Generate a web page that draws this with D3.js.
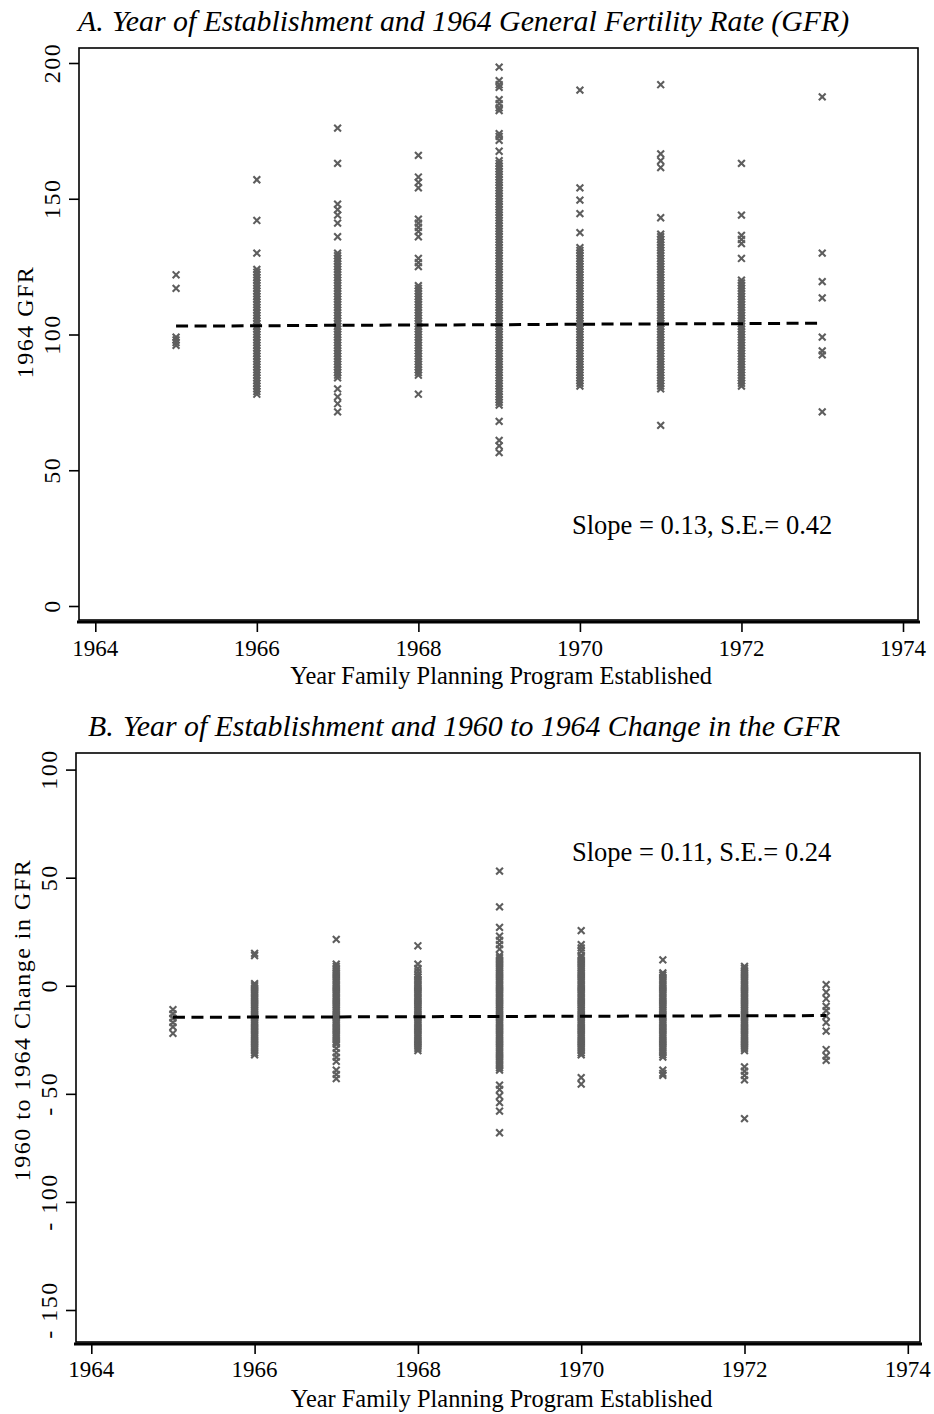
<!DOCTYPE html>
<html>
<head>
<meta charset="utf-8">
<script src="https://cdn.jsdelivr.net/npm/d3@7"></script>
<style>
html,body{margin:0;padding:0;background:#fff;}
svg text{font-family:"Liberation Serif","Times New Roman",serif;fill:#000;}
</style>
</head>
<body>
<svg id="chart" width="934" height="1414"></svg>
<script>
// ---------- DATA ----------
const years = [1965, 1966, 1967, 1968, 1969, 1970, 1971, 1972, 1973];
const xTicks = [1964, 1966, 1968, 1970, 1972, 1974];
const yTicksA = [0, 50, 100, 150, 200];
const yTicksB = [-150, -100, -50, 0, 50, 100];

// Panel A: 1964 GFR by year of establishment
const gfr64_1965 = [122, 117, 99, 98, 97, 96];
const gfr64_1966 = [157, 142, 130, 124, 123, 122, 121, 120, 119, 118, 117, 116, 115, 114, 113, 112, 111, 110, 109, 108, 107, 106, 105, 104, 103, 102, 101, 100, 99, 98, 97, 96, 95, 94, 93, 92, 91, 90, 89, 88, 87, 86, 85, 84, 83, 82, 81, 80, 79, 78];
const gfr64_1967 = [176, 163, 148, 146, 144, 141, 136, 130, 129, 128, 127, 126, 125, 124, 123, 122, 121, 120, 119, 118, 117, 116, 115, 114, 113, 112, 111, 110, 109, 108, 107, 106, 105, 104, 103, 102, 101, 100, 99, 98, 97, 96, 95, 94, 93, 92, 91, 90, 89, 88, 87, 86, 85, 84, 80, 77, 74.5, 71.5];
const gfr64_1968 = [166, 158, 156, 154, 142.5, 141, 139.5, 138, 136, 128, 126.5, 125, 118, 117, 116, 115, 114, 113, 112, 111, 110, 109, 108, 107, 106, 105, 104, 103, 102, 101, 100, 99, 98, 97, 96, 95, 94, 93, 92, 91, 90, 89, 88, 87, 86, 85, 78];
const gfr64_1969 = [198.5, 193.5, 192, 191, 186.5, 185, 183.5, 182.5, 174, 173, 171.5, 167.5, 164, 163, 162, 161, 160, 159, 158, 157, 156, 155, 154, 153, 152, 151, 150, 149, 148, 147, 146, 145, 144, 143, 142, 141, 140, 139, 138, 137, 136, 135, 134, 133, 132, 131, 130, 129, 128, 127, 126, 125, 124, 123, 122, 121, 120, 119, 118, 117, 116, 115, 114, 113, 112, 111, 110, 109, 108, 107, 106, 105, 104, 103, 102, 101, 100, 99, 98, 97, 96, 95, 94, 93, 92, 91, 90, 89, 88, 87, 86, 85, 84, 83, 82, 81, 80, 79, 78, 77, 76, 75, 74, 68, 61, 59, 56.5];
const gfr64_1970 = [190, 154, 149.5, 144.5, 137.5, 132, 131, 130, 129, 128, 127, 126, 125, 124, 123, 122, 121, 120, 119, 118, 117, 116, 115, 114, 113, 112, 111, 110, 109, 108, 107, 106, 105, 104, 103, 102, 101, 100, 99, 98, 97, 96, 95, 94, 93, 92, 91, 90, 89, 88, 87, 86, 85, 84, 83, 82, 81];
const gfr64_1971 = [192, 166.5, 164, 161.5, 143, 137, 136, 135, 134, 133, 132, 131, 130, 129, 128, 127, 126, 125, 124, 123, 122, 121, 120, 119, 118, 117, 116, 115, 114, 113, 112, 111, 110, 109, 108, 107, 106, 105, 104, 103, 102, 101, 100, 99, 98, 97, 96, 95, 94, 93, 92, 91, 90, 89, 88, 87, 86, 85, 84, 83, 82, 81, 80, 66.5];
const gfr64_1972 = [163, 144, 136.5, 135, 133.5, 128, 120, 119, 118, 117, 116, 115, 114, 113, 112, 111, 110, 109, 108, 107, 106, 105, 104, 103, 102, 101, 100, 99, 98, 97, 96, 95, 94, 93, 92, 91, 90, 89, 88, 87, 86, 85, 84, 83, 82, 81];
const gfr64_1973 = [187.5, 130, 119.5, 113.5, 99, 94, 92.5, 71.5];
const fitA = [103.1, 103.2, 103.4, 103.5, 103.6, 103.8, 103.9, 104.0, 104.2];

// Panel B: 1960-1964 change in GFR
const chg_1965 = [-11, -13, -15, -17, -19, -22];
const chg_1966 = [15, 14, 1, 0, -1, -2, -3, -4, -5, -6, -7, -8, -9, -10, -11, -12, -13, -14, -15, -16, -17, -18, -19, -20, -21, -22, -23, -24, -25, -26, -27, -28, -29, -30, -31, -32];
const chg_1967 = [21.5, 10, 9, 8, 7, 6, 5, 4, 3, 2, 1, 0, -1, -2, -3, -4, -5, -6, -7, -8, -9, -10, -11, -12, -13, -14, -15, -16, -17, -18, -19, -20, -21, -22, -23, -24, -25, -26, -27, -29, -31, -33, -35, -39, -41, -43];
const chg_1968 = [18.5, 10, 8, 6.5, 5, 4, 3, 2, 1, 0, -1, -2, -3, -4, -5, -6, -7, -8, -9, -10, -11, -12, -13, -14, -15, -16, -17, -18, -19, -20, -21, -22, -23, -24, -25, -26, -27, -28, -29, -30];
const chg_1969 = [53, 36.5, 27, 23, 21, 19, 17, 14, 13, 12, 11, 10, 9, 8, 7, 6, 5, 4, 3, 2, 1, 0, -1, -2, -3, -4, -5, -6, -7, -8, -9, -10, -11, -12, -13, -14, -15, -16, -17, -18, -19, -20, -21, -22, -23, -24, -25, -26, -27, -28, -29, -30, -31, -32, -33, -34, -35, -36, -37, -38, -39, -46, -48, -51, -54, -58, -68];
const chg_1970 = [25.5, 19, 17.5, 16, 14, 13, 12, 11, 10, 9, 8, 7, 6, 5, 4, 3, 2, 1, 0, -1, -2, -3, -4, -5, -6, -7, -8, -9, -10, -11, -12, -13, -14, -15, -16, -17, -18, -19, -20, -21, -22, -23, -24, -25, -26, -27, -28, -29, -30, -31, -32, -42.5, -45.5];
const chg_1971 = [12, 6, 5, 4, 3, 2, 1, 0, -1, -2, -3, -4, -5, -6, -7, -8, -9, -10, -11, -12, -13, -14, -15, -16, -17, -18, -19, -20, -21, -22, -23, -24, -25, -26, -27, -28, -29, -30, -31, -32, -33, -39, -40.5, -41.5];
const chg_1972 = [9, 8, 7, 6, 5, 4, 3, 2, 1, 0, -1, -2, -3, -4, -5, -6, -7, -8, -9, -10, -11, -12, -13, -14, -15, -16, -17, -18, -19, -20, -21, -22, -23, -24, -25, -26, -27, -28, -29, -30, -37.5, -39.5, -41.5, -43.5, -61.5];
const chg_1973 = [0.5, -3, -6, -9.5, -11.5, -14, -17, -21, -29.5, -32.5, -34.5];
const fitB = [-14.6, -14.5, -14.4, -14.3, -14.2, -14.1, -14.0, -13.9, -13.8];

const seriesA = [gfr64_1965, gfr64_1966, gfr64_1967, gfr64_1968, gfr64_1969, gfr64_1970, gfr64_1971, gfr64_1972, gfr64_1973];
const seriesB = [chg_1965, chg_1966, chg_1967, chg_1968, chg_1969, chg_1970, chg_1971, chg_1972, chg_1973];

// ---------- DRAW ----------
const svg = d3.select("#chart");
const MARK = "#5e5e5e";

function panel(cfg) {
  const g = svg.append("g");
  const x = d3.scaleLinear().domain([1964, 1974]).range(cfg.xr);
  const y = d3.scaleLinear().domain(cfg.yd).range(cfg.yr);
  const b = cfg.box; // left, top, right, bottom

  // title
  const t = g.append("text").attr("y", cfg.titleY)
    .attr("font-style", "italic").attr("font-size", 29.8);
  t.append("tspan").attr("x", cfg.titleX1).text(cfg.titleLetter);
  t.append("tspan").attr("x", cfg.titleX2).text(cfg.title);

  // box
  g.append("rect").attr("x", b[0]).attr("y", b[1])
    .attr("width", b[2] - b[0]).attr("height", b[3] - b[1])
    .attr("fill", "none").attr("stroke", "#000").attr("stroke-width", 1.6);

  // data points (x markers)
  const pts = [];
  years.forEach((yr, i) => cfg.series[i].forEach(v => pts.push([yr, v])));
  const s = 3.4;
  g.append("g").selectAll("path").data(pts).join("path")
    .attr("d", d => {
      const px = x(d[0]), py = y(d[1]);
      return `M${px - s},${py - s}L${px + s},${py + s}M${px - s},${py + s}L${px + s},${py - s}`;
    })
    .attr("stroke", MARK).attr("stroke-width", 2.1).attr("fill", "none");

  // fitted line
  const line = d3.line().x((d, i) => x(years[i])).y(d => y(d));
  g.append("path").datum(cfg.fit).attr("d", line)
    .attr("fill", "none").attr("stroke", "#000").attr("stroke-width", 3)
    .attr("stroke-dasharray", "12,6.5");

  // y axis
  const ya = d3.axisLeft(y).tickValues(cfg.yTicks).tickSize(10).tickFormat(d3.format("d"));
  const yg = g.append("g").attr("transform", `translate(${b[0]},0)`).call(ya);
  yg.select(".domain").remove();
  yg.selectAll(".tick line").attr("stroke", "#000").attr("stroke-width", 1.6);
  yg.selectAll(".tick text").remove();
  g.append("g").selectAll("text").data(cfg.yTicks).join("text")
    .attr("transform", d => `translate(${cfg.yLabX},${y(d)}) rotate(-90)`)
    .attr("text-anchor", "middle").attr("font-size", 24)
    .attr("letter-spacing", "1.5px")
    .text(d => d < 0 ? "- " + Math.abs(d) : String(d));

  // x axis
  const xa = d3.axisBottom(x).tickValues(xTicks).tickSize(10).tickFormat(d3.format("d"));
  const xg = g.append("g").attr("transform", `translate(0,${cfg.xAxisY})`).call(xa);
  xg.select(".domain").remove();
  xg.selectAll(".tick line").attr("stroke", "#000").attr("stroke-width", 1.6);
  xg.selectAll(".tick text").remove();
  g.append("line").attr("x1", b[0] - 2).attr("x2", b[2] + 2)
    .attr("y1", cfg.xAxisY).attr("y2", cfg.xAxisY)
    .attr("stroke", "#000").attr("stroke-width", 3.2);
  g.append("g").selectAll("text").data(xTicks).join("text")
    .attr("x", d => x(d)).attr("y", cfg.xLabY)
    .attr("text-anchor", "middle").attr("font-size", 23)
    .text(d => d);

  // axis titles
  g.append("text").attr("x", (x(1964) + x(1974)) / 2 + 2).attr("y", cfg.xTitleY)
    .attr("text-anchor", "middle").attr("font-size", 24.4)
    .text("Year Family Planning Program Established");
  g.append("text")
    .attr("transform", `translate(${cfg.yTitleX},${cfg.yTitleCY}) rotate(-90)`)
    .attr("text-anchor", "middle").attr("font-size", 24)
    .attr("letter-spacing", "1.5px")
    .text(cfg.yTitle);

  // slope annotation
  g.append("text").attr("x", 572).attr("y", cfg.slopeY)
    .attr("font-size", 26.5).text(cfg.slope);
}

panel({
  xr: [95.3, 903], yd: [0, 200], yr: [606, 63],
  box: [79, 48, 918, 620], xAxisY: 622,
  titleY: 31, titleX1: 78, titleX2: 112, titleLetter: "A.",
  title: "Year of Establishment and 1964 General Fertility Rate (GFR)",
  series: seriesA, fit: fitA, yTicks: yTicksA,
  yLabX: 60, yTitleX: 33, yTitleCY: 322, yTitle: "1964 GFR",
  xLabY: 656, xTitleY: 684,
  slopeY: 534, slope: "Slope = 0.13, S.E.= 0.42"
});

panel({
  xr: [91.3, 907.8], yd: [-150, 100], yr: [1310, 769.6],
  box: [76, 753, 920, 1342], xAxisY: 1344,
  titleY: 736, titleX1: 88, titleX2: 123, titleLetter: "B.",
  title: "Year of Establishment and 1960 to 1964 Change in the GFR",
  series: seriesB, fit: fitB, yTicks: yTicksB,
  yLabX: 57, yTitleX: 30, yTitleCY: 1020, yTitle: "1960 to 1964 Change in GFR",
  xLabY: 1377, xTitleY: 1407,
  slopeY: 861, slope: "Slope = 0.11, S.E.= 0.24"
});
</script>
</body>
</html>
